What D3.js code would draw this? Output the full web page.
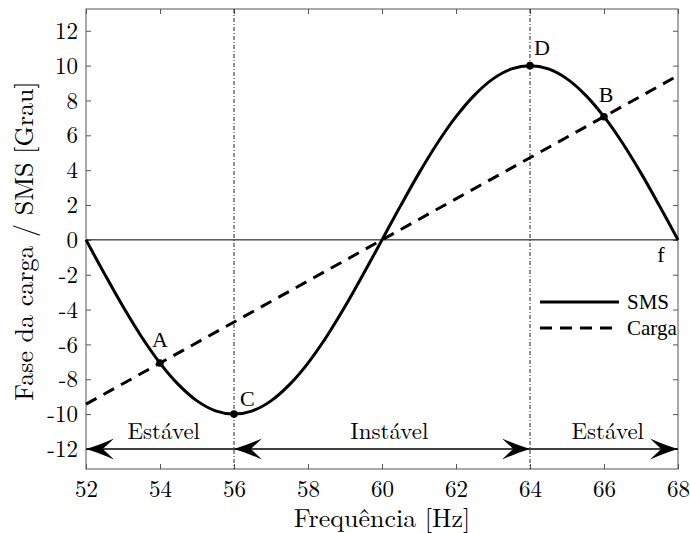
<!DOCTYPE html>
<html><head><meta charset="utf-8">
<script src="https://cdn.jsdelivr.net/npm/d3@7"></script>
<style>body{margin:0;background:#fff}svg{display:block}</style>
</head><body>
<svg id="c" width="690" height="533"></svg>
<script>
// Data
const freqs = [52,52.5,53,53.5,54,54.5,55,55.5,56,56.5,57,57.5,58,58.5,59,59.5,60,60.5,61,61.5,62,62.5,63,63.5,64,64.5,65,65.5,66,66.5,67,67.5,68];
const smsPhase = [0,-1.95,-3.83,-5.56,-7.07,-8.31,-9.24,-9.81,-10,-9.81,-9.24,-8.31,-7.07,-5.56,-3.83,-1.95,0,1.95,3.83,5.56,7.07,8.31,9.24,9.81,10,9.81,9.24,8.31,7.07,5.56,3.83,1.95,0];
const cargaFreqs = [52, 68];
const cargaPhase = [-9.43, 9.43];
const pointLabels = ["A","B","C","D"];
const pointFreqs = [54, 66, 56, 64];
const pointPhase = [-7.07, 7.07, -10, 10];
const xTicks = [52,54,56,58,60,62,64,66,68];
const yTicks = [-12,-10,-8,-6,-4,-2,0,2,4,6,8,10,12];
const boundaries = [56, 64];
const regionLabels = ["Estável","Instável","Estável"];
const regionCenters = [54.1, 60.2, 66.1];
const arrowLevel = -12;
const arrowTips = [52, 56, 64, 68];
const arrowDirs = [-1, -1, 1, 1];
const legendNames = ["SMS","Carga"];

const CM = "Latin Modern Roman";
const TM = "Liberation Serif";
const svg = d3.select("#c");
const L = 86, R = 678, T = 9, B = 469;
const x = d3.scaleLinear().domain([52,68]).range([L,R]);
const y = d3.scaleLinear().domain([-13.15,13.25]).range([B,T]);

// frame
svg.append("rect").attr("x",L).attr("y",T).attr("width",R-L).attr("height",B-T)
  .attr("fill","none").attr("stroke","#555").attr("stroke-width",1);

// ticks (inside, mirrored)
const tl = 5;
const fmt = d => String(d);
const axB = svg.append("g").attr("transform",`translate(0,${B})`)
  .call(d3.axisBottom(x).tickValues(xTicks).tickSizeInner(-tl).tickSizeOuter(0).tickPadding(12).tickFormat(fmt));
const axT = svg.append("g").attr("transform",`translate(0,${T})`)
  .call(d3.axisTop(x).tickValues(xTicks).tickSizeInner(-tl).tickSizeOuter(0).tickFormat(""));
const axL = svg.append("g").attr("transform",`translate(${L},0)`)
  .call(d3.axisLeft(y).tickValues(yTicks).tickSizeInner(-tl).tickSizeOuter(0).tickPadding(8).tickFormat(fmt));
const axR = svg.append("g").attr("transform",`translate(${R},0)`)
  .call(d3.axisRight(y).tickValues(yTicks).tickSizeInner(-tl).tickSizeOuter(0).tickFormat(""));
[axB,axT,axL,axR].forEach(a=>{a.attr("font-family",CM);a.select(".domain").remove();a.selectAll("line").attr("stroke","#555");});
axB.selectAll("text").attr("font-size",23).attr("font-family",CM).attr("fill","#000").attr("dy","0.68em");
axL.selectAll("text").attr("font-size",23).attr("font-family",CM).attr("fill","#000").attr("dy","0.33em");

// zero line
svg.append("line").attr("x1",L).attr("x2",R).attr("y1",y(0)).attr("y2",y(0))
  .attr("stroke","#000").attr("stroke-width",1);

// boundaries
svg.selectAll(".bd").data(boundaries).join("line")
  .attr("x1",d=>x(d)).attr("x2",d=>x(d)).attr("y1",T).attr("y2",B)
  .attr("stroke","#222").attr("stroke-width",1).attr("stroke-dasharray","4,2,1,2");

// carga line
svg.append("path").datum(cargaFreqs.map((f,i)=>[f,cargaPhase[i]]))
  .attr("d",d3.line().x(d=>x(d[0])).y(d=>y(d[1])))
  .attr("fill","none").attr("stroke","#000").attr("stroke-width",3).attr("stroke-dasharray","12,8");

// SMS curve
svg.append("path").datum(freqs.map((f,i)=>[f,smsPhase[i]]))
  .attr("d",d3.line().curve(d3.curveCatmullRom).x(d=>x(d[0])).y(d=>y(d[1])))
  .attr("fill","none").attr("stroke","#000").attr("stroke-width",3);

// arrow line
svg.append("line").attr("x1",x(52)).attr("x2",x(68)).attr("y1",y(arrowLevel)).attr("y2",y(arrowLevel))
  .attr("stroke","#000").attr("stroke-width",1.5);
const AL = 28, AW = 10.5;
svg.selectAll(".ah").data(arrowTips.map((t,i)=>[t,arrowDirs[i]])).join("path")
  .attr("d",d=>{const tx=x(d[0]), ty=y(arrowLevel), s=-d[1];
    return `M${tx},${ty} Q${tx+s*AL*0.45},${ty-AW*0.35} ${tx+s*AL},${ty-AW} L${tx+s*AL*0.6},${ty} L${tx+s*AL},${ty+AW} Q${tx+s*AL*0.45},${ty+AW*0.35} ${tx},${ty} Z`;})
  .attr("fill","#000");

// region labels
svg.selectAll(".rl").data(regionLabels).join("text")
  .attr("x",(d,i)=>x(regionCenters[i])).attr("y",y(arrowLevel)-10)
  .attr("text-anchor","middle").attr("font-family",CM).attr("font-size",23).text(d=>d);

// points
svg.selectAll(".pt").data(pointFreqs).join("circle")
  .attr("cx",d=>x(d)).attr("cy",(d,i)=>y(pointPhase[i])).attr("r",3.8).attr("fill","#000");
const lblOff = [[0,-16,"middle"],[2,-15,"middle"],[6,-8,"start"],[4,-11,"start"]];
svg.selectAll(".pl").data(pointLabels).join("text")
  .attr("x",(d,i)=>x(pointFreqs[i])+lblOff[i][0]).attr("y",(d,i)=>y(pointPhase[i])+lblOff[i][1])
  .attr("text-anchor",(d,i)=>lblOff[i][2]).attr("font-family",TM).attr("font-size",22).text(d=>d);
svg.append("text").attr("x",x(68)-17).attr("y",y(0)+22).attr("text-anchor","middle")
  .attr("font-family",TM).attr("font-size",22).text("f");

// legend
const lg = svg.append("g");
legendNames.forEach((n,i)=>{
  const ly = 302 + i*26;
  lg.append("line").attr("x1",540).attr("x2",619).attr("y1",ly).attr("y2",ly)
    .attr("stroke","#000").attr("stroke-width",3).attr("stroke-dasharray", i===1?"12,8":null);
  lg.append("text").attr("x",627).attr("y",ly+7).attr("font-family",TM).attr("font-size",21).text(n);
});

// axis titles
svg.append("text").attr("x",(L+R)/2).attr("y",527).attr("text-anchor","middle")
  .attr("font-family",CM).attr("font-size",26).text("Frequência [Hz]");
svg.append("text").attr("transform",`translate(33,${(T+B)/2+2}) rotate(-90)`).attr("text-anchor","middle")
  .attr("font-family",CM).attr("font-size",26).text("Fase da carga / SMS [Grau]");
</script>
</body></html>
